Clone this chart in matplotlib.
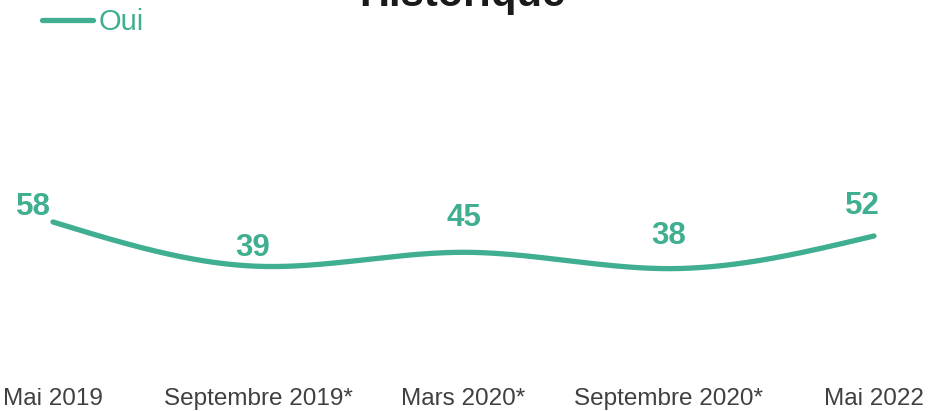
import numpy as np
import matplotlib.pyplot as plt

# data
categories = ["Mai 2019", "Septembre 2019*", "Mars 2020*", "Septembre 2020*", "Mai 2022"]
oui = [58, 39, 45, 38, 52]

# label offsets in pixels (style only)
label_dx = [-20, -6, 0, 0, -12]
label_dy = [15, 18, 34, 33, 30]

TEAL = "#40ae91"
plt.rcParams['font.family'] = ['Liberation Sans', 'DejaVu Sans']


def natural_spline(x, y, n=400):
    x = np.asarray(x, float)
    y = np.asarray(y, float)
    k = len(x)
    h = np.diff(x)
    A = np.zeros((k, k))
    b = np.zeros(k)
    A[0, 0] = A[-1, -1] = 1
    for i in range(1, k - 1):
        A[i, i - 1] = h[i - 1]
        A[i, i] = 2 * (h[i - 1] + h[i])
        A[i, i + 1] = h[i]
        b[i] = 6 * ((y[i + 1] - y[i]) / h[i] - (y[i] - y[i - 1]) / h[i - 1])
    M = np.linalg.solve(A, b)
    xs = np.linspace(x[0], x[-1], n)
    ys = np.empty_like(xs)
    for j, xv in enumerate(xs):
        i = min(np.searchsorted(x, xv, side='right') - 1, k - 2)
        t1 = x[i + 1] - xv
        t0 = xv - x[i]
        ys[j] = (M[i] * t1 ** 3 + M[i + 1] * t0 ** 3) / (6 * h[i]) \
            + (y[i] / h[i] - M[i] * h[i] / 6) * t1 \
            + (y[i + 1] / h[i] - M[i + 1] * h[i] / 6) * t0
    return xs, ys


fig = plt.figure(figsize=(9.30, 4.11), dpi=100)
ax = fig.add_axes([53 / 930, 0.1307, (874 - 53) / 930, 0.5676])

x = np.arange(len(categories))
xs, ys = natural_spline(x, oui)
ax.plot(xs, ys, color=TEAL, lw=3.8, solid_capstyle='round', clip_on=False, label="Oui")

for i, v in enumerate(oui):
    ax.annotate(str(v), (x[i], v), xytext=(label_dx[i], label_dy[i]),
                textcoords='offset pixels', ha='center', va='center',
                fontsize=22.5, fontweight='bold', color=TEAL, annotation_clip=False)

ax.set_xlim(0, len(categories) - 1)
ax.set_ylim(0, 100)
ax.set_xticks(x)
ax.set_xticklabels(categories, fontsize=17.5, color="#404040")
ax.tick_params(axis='x', length=0, pad=22)
ax.set_yticks([])
for s in ax.spines.values():
    s.set_visible(False)

# title is partly cut off at the top, as in the source
fig.text(0.497, 1.06, "Historique", ha='center', va='top', fontsize=30,
         fontweight='bold', color="#1a1a1a")

leg = fig.legend(loc='upper left', bbox_to_anchor=(0.017, 1.045), frameon=False,
                 fontsize=21, handlelength=1.75, handletextpad=0.2, labelcolor=TEAL)

fig.savefig("out.png", dpi=100)
